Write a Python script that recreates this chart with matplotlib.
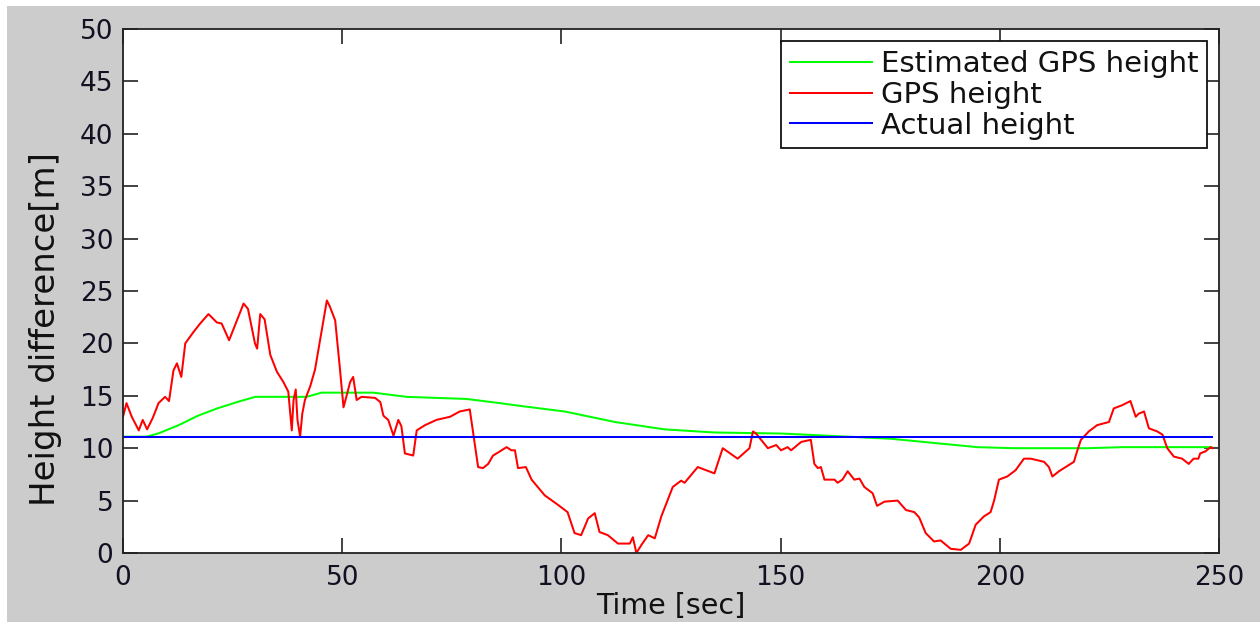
import matplotlib
matplotlib.use("Agg")
import matplotlib.pyplot as plt
from matplotlib.patches import Rectangle

# ---------------- data ----------------
gps_t = [0.0, 0.8, 2.0, 3.6, 4.5, 5.5, 6.8, 8.1, 9.6, 10.5, 11.5, 12.3, 13.3, 14.2, 16.1, 17.6,
         19.5, 21.4, 22.5, 24.2, 26.0, 27.5, 28.5, 30.1, 30.6, 31.3, 32.3, 33.6, 35.1, 36.6, 37.7,
         38.5, 38.9, 39.4, 39.8, 40.4, 40.9, 41.5, 42.7, 43.8, 45.2, 46.5, 47.2, 48.4, 49.5, 50.3,
         51.0, 51.8, 52.5, 53.3, 54.4, 57.5, 58.7, 59.4, 60.5, 61.7, 62.8, 63.5, 64.3, 66.2, 67.0,
         68.9, 71.5, 74.6, 76.8, 79.1, 79.9, 81.0, 82.1, 83.3, 84.4, 85.6, 87.5, 88.6, 89.4, 90.1,
         91.9, 93.2, 96.2, 99.2, 101.4, 103.0, 104.5, 106.1, 107.6, 108.7, 110.6, 112.9, 115.6,
         116.3, 117.1, 118.3, 119.8, 121.3, 122.8, 125.4, 127.3, 128.1, 131.1, 134.9, 136.8, 140.2,
         142.9, 143.7, 144.4, 147.1, 149.0, 150.1, 151.6, 152.4, 154.7, 156.9, 157.7, 158.5, 159.2,
         160.0, 162.3, 163.0, 164.1, 165.3, 166.8, 168.0, 169.1, 171.0, 172.0, 173.7, 176.7, 178.6,
         180.5, 181.6, 183.1, 185.0, 186.5, 188.8, 191.1, 193.0, 194.5, 196.4, 197.9, 198.7, 199.8,
         201.7, 203.6, 205.5, 207.1, 210.1, 211.2, 212.0, 213.5, 216.9, 217.7, 218.5, 220.3, 222.2,
         224.9, 226.0, 227.9, 229.8, 231.0, 231.7, 232.9, 234.0, 235.9, 237.1, 238.2, 239.7, 241.6,
         243.1, 244.2, 245.3, 245.7, 246.9, 248.1, 248.5]
gps_h = [13.0, 14.3, 13.0, 11.7, 12.7, 11.8, 12.9, 14.3, 14.9, 14.5, 17.4, 18.1, 16.8, 20.0, 21.1, 21.9,
         22.8, 22.0, 21.9, 20.3, 22.2, 23.8, 23.3, 20.0, 19.5, 22.8, 22.3, 18.9, 17.3, 16.3, 15.4,
         11.7, 14.6, 15.6, 12.7, 11.1, 13.3, 14.6, 15.9, 17.5, 20.9, 24.1, 23.5, 22.2, 17.5, 13.9,
         15.0, 16.3, 16.8, 14.6, 14.9, 14.8, 14.4, 13.1, 12.7, 11.2, 12.7, 12.1, 9.5, 9.3, 11.7,
         12.2, 12.7, 13.0, 13.5, 13.7, 11.4, 8.2, 8.1, 8.5, 9.3, 9.6, 10.1, 9.8, 9.8, 8.1,
         8.2, 7.0, 5.5, 4.6, 3.9, 1.9, 1.7, 3.3, 3.8, 2.0, 1.7, 0.9, 0.9,
         1.5, 0.0, 0.8, 1.7, 1.4, 3.5, 6.3, 6.9, 6.7, 8.2, 7.6, 10.0, 9.0,
         10.0, 11.6, 11.4, 10.0, 10.3, 9.8, 10.1, 9.8, 10.6, 10.8, 8.5, 8.1, 8.2,
         7.0, 7.0, 6.7, 7.0, 7.8, 7.0, 7.1, 6.3, 5.7, 4.5, 4.9, 5.0, 4.1,
         3.9, 3.4, 1.9, 1.1, 1.2, 0.4, 0.3, 0.9, 2.7, 3.5, 3.9, 5.0, 7.0,
         7.3, 7.9, 9.0, 9.0, 8.7, 8.2, 7.3, 7.8, 8.7, 9.8, 10.8, 11.6, 12.2,
         12.5, 13.8, 14.1, 14.5, 13.0, 13.3, 13.5, 11.9, 11.6, 11.3, 10.0, 9.2, 9.0,
         8.5, 9.0, 9.0, 9.5, 9.7, 10.1, 10.0]

est_t = [0, 5.4, 8, 12.7, 17.1, 21.5, 26.8, 30.2, 41.9, 45.3, 57.1, 64.7, 78.3, 86, 89.4, 100.8,
         112.2, 123.5, 134.9, 150.1, 165.3, 175.2, 185, 194.9, 203.2, 220, 228, 248.3]
est_h = [11.1, 11.1, 11.4, 12.2, 13.1, 13.8, 14.5, 14.9, 14.9, 15.3, 15.3, 14.9, 14.7, 14.3, 14.1, 13.5,
         12.5, 11.8, 11.5, 11.4, 11.1, 10.9, 10.5, 10.1, 10.0, 10.0, 10.1, 10.1]

act_t = [0, 248.4]
act_h = [11.1, 11.1]

labels = ["Estimated GPS height", "GPS height", "Actual height"]
xticks = [0, 50, 100, 150, 200, 250]
yticks = [0, 5, 10, 15, 20, 25, 30, 35, 40, 45, 50]

# ---------------- figure ----------------
W, H = 1260, 622
fig = plt.figure(figsize=(W / 100, H / 100), dpi=100, facecolor="white")
fig.patches.append(Rectangle((7 / W, 0), 1 - 7 / W, (H - 6) / H, transform=fig.transFigure,
                             facecolor="#cccccc", edgecolor="none", zorder=-10))

ax = fig.add_axes([123 / W, (H - 553) / H, (1219 - 123) / W, (553 - 29) / H])
ax.set_facecolor("white")

lw = 1.45
ax.plot(est_t, est_h, color="#00ff00", lw=lw, label=labels[0])
ax.plot(gps_t, gps_h, color="#ff0000", lw=lw, label=labels[1])
ax.plot(act_t, act_h, color="#0000ff", lw=lw, label=labels[2])

ax.set_xlim(0, 250)
ax.set_ylim(0, 50)
ax.set_xticks(xticks)
ax.set_yticks(yticks)

for s in ax.spines.values():
    s.set_linewidth(1.3)
    s.set_color("#222222")

ax.tick_params(direction="in", length=11, width=1.2, top=True, right=True,
               labelsize=19, colors="#222222", labelcolor="#111122")
ax.tick_params(axis="y", pad=7)
ax.tick_params(axis="x", pad=8.5)

ax.set_xlabel("Time [sec]", fontsize=20.5, color="#111111", labelpad=1)
ax.set_ylabel("Height difference[m]", fontsize=24.5, color="#111111")
ax.yaxis.set_label_coords(-0.056, 0.4275)

leg = ax.legend(loc="upper right", bbox_to_anchor=(0.989, 0.977), borderaxespad=0,
                fontsize=21, fancybox=False, framealpha=1, edgecolor="#111111",
                handlelength=2.8, handletextpad=0.3, labelspacing=0.1, borderpad=0.3)
leg.get_frame().set_linewidth(1.3)
for t in leg.get_texts():
    t.set_color("#111111")

fig.savefig("out.png", dpi=100, facecolor=fig.get_facecolor())
